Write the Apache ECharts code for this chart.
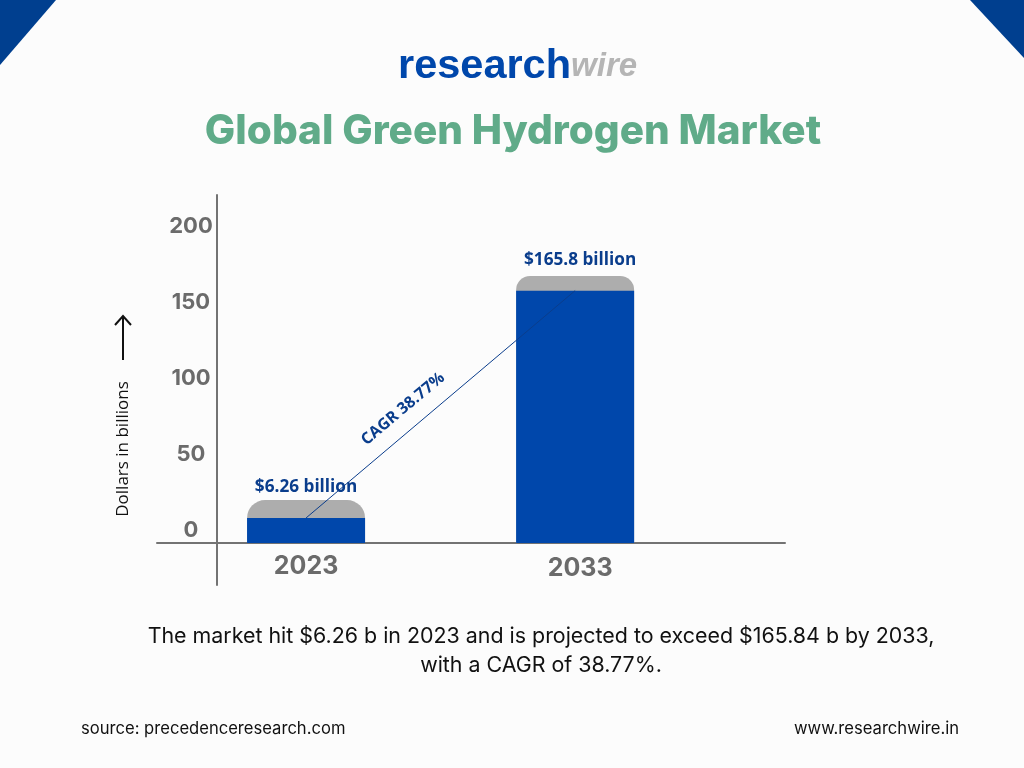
<!DOCTYPE html>
<html>
<head>
<meta charset="utf-8">
<style>html,body{margin:0;padding:0;background:#fcfcfc}#c{width:1024px;height:768px}</style>
<script src="https://cdn.jsdelivr.net/npm/echarts@6/dist/echarts.min.js"></script>
</head>
<body>
<div id="c"></div>
<script>
const years = [2023, 2033];
const blueValues = [16.5, 166];
const capTopValues = [28.3, 175.7];
const valueLabels = ['$6.26 billion', '$165.8 billion'];
const yTicks = [0, 50, 100, 150, 200];
const titleText = 'Global Green Hydrogen Market';
const cagrText = 'CAGR 38.77%';
const yName = 'Dollars in billions';
const captionText = 'The market hit $6.26 b in 2023 and is projected to exceed $165.84 b by 2033,\nwith a CAGR of 38.77%.';
const sourceText = 'source: precedenceresearch.com';
const siteText = 'www.researchwire.in';

const F = 'Inter, "Open Sans", sans-serif';
const B = '"Open Sans", sans-serif';
const chart = echarts.init(document.getElementById('c'), null, {renderer: 'canvas'});
chart.setOption({
  animation: false,
  backgroundColor: '#fcfcfc',
  grid: {left: 157, right: 239, top: 195, bottom: 183},
  title: {
    text: titleText, left: 508, top: 106, textAlign: 'center',
    textStyle: {fontFamily: F, fontSize: 40.5, fontWeight: 800, color: '#60ab89', letterSpacing: -0.5}
  },
  xAxis: {
    type: 'value', min: 2017.46, max: 2040.8,
    splitLine: {show: false},
    axisTick: {show: false},
    axisLine: {onZero: true, lineStyle: {color: '#737373', width: 2}},
    axisLabel: {
      customValues: years, margin: -31,
      formatter: v => v === 2033 ? '{b|' + v + '}' : '{a|' + v + '}',
      rich: {
        a: {fontFamily: F, fontSize: 25, fontWeight: 700, color: '#6b6b6b'},
        b: {fontFamily: F, fontSize: 25, fontWeight: 700, color: '#6b6b6b', padding: [2, 0, 0, 10]}
      }
    }
  },
  yAxis: {
    type: 'value', min: -27.6, max: 228.9, offset: -60,
    splitLine: {show: false},
    axisTick: {show: false},
    axisLine: {show: true, onZero: false, lineStyle: {color: '#737373', width: 2}},
    axisLabel: {
      customValues: yTicks, align: 'center', margin: 26, verticalAlign: 'bottom', lineHeight: 26,
      fontFamily: F, fontSize: 22, fontWeight: 700, color: '#6b6b6b'
    }
  },
  series: [
    {
      type: 'bar', barWidth: 118, barGap: '-100%',
      data: years.map((y, i) => ({
        value: [y, capTopValues[i]],
        label: {
          show: true, position: 'top', formatter: valueLabels[i],
          distance: i === 0 ? 4 : 7, offset: [i === 0 ? 0 : 5, 0],
          fontFamily: B, fontSize: 17.2, fontWeight: 700, color: '#0a3d8c'
        },
        itemStyle: {borderRadius: i === 0 ? [18, 18, 0, 0] : [14, 14, 0, 0]}
      })),
      itemStyle: {color: '#adadad'}, z: 2
    },
    {
      type: 'bar', barWidth: 118, barGap: '-100%',
      data: years.map((y, i) => [y, blueValues[i]]),
      itemStyle: {color: '#0047ab'}, z: 3
    },
    {
      type: 'line', data: years.map((y, i) => [y, blueValues[i]]),
      showSymbol: false, symbol: 'none', z: 5,
      lineStyle: {color: '#0a3d8c', width: 1}
    }
  ],
  graphic: [
    {type: 'polygon', shape: {points: [[0, 0], [56, 0], [0, 65]]}, style: {fill: '#003f8f'}},
    {type: 'polygon', shape: {points: [[970, 0], [1024, 0], [1024, 58]]}, style: {fill: '#003f8f'}},
    {type: 'text', x: 398, y: 67, style: {
      text: '{a|research}{b|wire}', textVerticalAlign: 'middle',
      rich: {
        a: {fontFamily: '"Liberation Sans"', fontSize: 41.5, fontWeight: 700, fill: '#0047ab', color: '#0047ab'},
        b: {fontFamily: '"Liberation Sans"', fontSize: 33, fontWeight: 700, fontStyle: 'italic', fill: '#b5b5b5', color: '#b5b5b5'}
      }
    }},
    {type: 'text', x: 403, y: 409, rotation: 40 * Math.PI / 180, style: {
      text: cagrText, textAlign: 'center', textVerticalAlign: 'middle',
      fontFamily: B, fontSize: 16, fontWeight: 700, fill: '#0a3d8c'
    }},
    {type: 'text', x: 123, y: 449, rotation: Math.PI / 2, style: {
      text: yName, textAlign: 'center', textVerticalAlign: 'middle',
      fontFamily: B, fontSize: 17, fill: '#111'
    }},
    {type: 'polyline', shape: {points: [[123, 360], [123, 316]]}, style: {stroke: '#111', lineWidth: 2, fill: 'none'}},
    {type: 'polyline', shape: {points: [[115, 325], [123, 316], [131, 325]]}, style: {stroke: '#111', lineWidth: 2, fill: 'none'}},
    {type: 'text', x: 541, y: 651, style: {
      text: captionText, textAlign: 'center', textVerticalAlign: 'middle', lineHeight: 29,
      fontFamily: F, fontSize: 21.4, fill: '#111'
    }},
    {type: 'text', x: 81, y: 729, style: {
      text: sourceText, textVerticalAlign: 'middle', fontFamily: F, fontSize: 16.6, fill: '#111'
    }},
    {type: 'text', x: 959, y: 729, style: {
      text: siteText, textAlign: 'right', textVerticalAlign: 'middle', fontFamily: F, fontSize: 16.6, fill: '#111'
    }}
  ]
});
</script>
</body>
</html>
